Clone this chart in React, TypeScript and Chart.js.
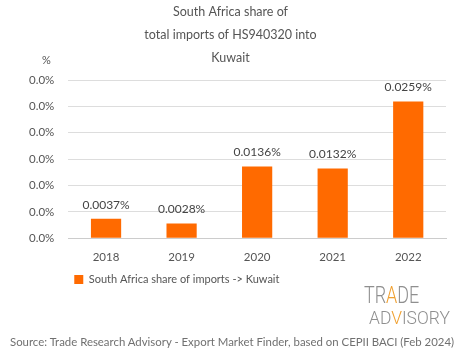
import React, { useEffect, useRef } from "react";
import { Chart, registerables } from "chart.js";

Chart.register(...registerables);

const titleLines = ["South Africa share of", "total imports of HS940320 into", "Kuwait"];
const years = ["2018", "2019", "2020", "2021", "2022"];
const shares = [0.0037, 0.0028, 0.0136, 0.0132, 0.0259];
const seriesLabel = "South Africa share of imports -> Kuwait";
const yMax = 0.03;
const yStep = 0.005;
const sourceText = "Source: Trade Research Advisory - Export Market Finder, based on CEPII BACI (Feb 2024)";

const FONT = "Lato, 'Noto Sans', sans-serif";
const ORANGE = "#ff6a00";
const TEXT = "#555555";

const valueLabels = {
  id: "valueLabels",
  afterDatasetsDraw(chart: any) {
    const ctx = chart.ctx;
    const meta = chart.getDatasetMeta(0);
    const data = chart.data.datasets[0].data as number[];
    ctx.save();
    ctx.font = `12px ${FONT}`;
    ctx.fillStyle = "#444444";
    ctx.textAlign = "center";
    ctx.textBaseline = "bottom";
    meta.data.forEach((bar: any, i: number) => {
      ctx.fillText(data[i].toFixed(4) + "%", bar.x, bar.y - 8);
    });
    ctx.restore();
  },
};

export default function App() {
  const ref = useRef<HTMLCanvasElement | null>(null);
  useEffect(() => {
    document.body.style.margin = "0";
    if (!ref.current) return;
    const chart = new Chart(ref.current, {
      type: "bar",
      data: {
        labels: years,
        datasets: [
          {
            label: seriesLabel,
            data: shares,
            backgroundColor: ORANGE,
            borderWidth: 0,
            barPercentage: 0.5,
            categoryPercentage: 0.8,
          },
        ],
      },
      options: {
        responsive: false,
        animation: false,
        devicePixelRatio: 1,
        layout: { padding: { top: 0, left: 15, right: 19, bottom: 64 } },
        plugins: {
          title: {
            display: true,
            text: titleLines,
            color: TEXT,
            font: { family: FONT, size: 12.5, weight: "normal", lineHeight: 1.84 },
            padding: { top: 0, bottom: 11 },
          },
          legend: {
            display: true,
            position: "bottom",
            align: "start",
            fullSize: false,
            labels: {
              boxWidth: 9,
              boxHeight: 9,
              padding: 6,
              color: TEXT,
              font: { family: FONT, size: 11 },
            },
          },
          tooltip: { enabled: false },
        },
        scales: {
          x: {
            grid: { display: false },
            border: { display: true, color: "#cccccc" },
            ticks: { color: TEXT, font: { family: FONT, size: 11.5 }, padding: 4 },
          },
          y: {
            min: 0,
            max: yMax,
            border: { display: false },
            grid: { color: "#dddddd", borderDash: [4, 3], drawTicks: false } as any,
            ticks: {
              stepSize: yStep,
              padding: 14,
              color: TEXT,
              font: { family: FONT, size: 11.5 },
              callback: (v: any) => Number(v).toFixed(1) + "%",
            },
          },
        },
      },
      plugins: [valueLabels],
    });
    return () => chart.destroy();
  }, []);

  return (
    <div style={{ position: "relative", width: 465, height: 359, fontFamily: FONT, color: TEXT }}>
      <canvas ref={ref} width={465} height={359} style={{ display: "block" }} />
      <div style={{ position: "absolute", left: 42, top: 53, fontSize: 11 }}>%</div>
      <div
        style={{
          position: "absolute",
          left: 362,
          top: 284,
          fontFamily: "Roboto, sans-serif",
          fontWeight: 300,
          color: "#8f8f8f",
          lineHeight: 1,
        }}
      >
        <div style={{ fontSize: 23, transform: "scaleX(0.78)", transformOrigin: "left top", whiteSpace: "nowrap", marginLeft: 2 }}>
          TR<span style={{ color: "#f0a030" }}>A</span>DE
        </div>
        <div style={{ fontSize: 18, transform: "scaleX(0.97)", transformOrigin: "left top", whiteSpace: "nowrap", marginTop: 2, marginLeft: 7 }}>
          AD<span style={{ color: "#f0a030" }}>V</span>ISORY
        </div>
      </div>
      <div
        style={{
          position: "absolute",
          left: 10,
          top: 335,
          fontSize: 11.4,
          whiteSpace: "nowrap",
          color: "#707070",
        }}
      >
        {sourceText}
      </div>
    </div>
  );
}
